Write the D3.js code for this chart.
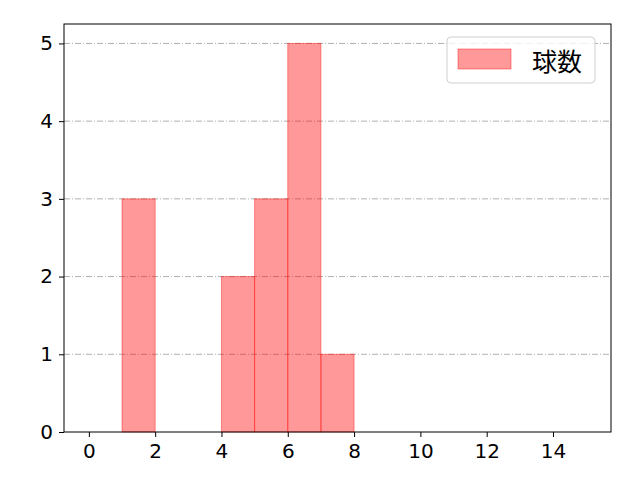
<!DOCTYPE html>
<html lang="ja">
<head>
<meta charset="UTF-8">
<title>球数</title>
<script src="https://d3js.org/d3.v7.min.js"></script>
<style>
  body { margin: 0; background: #fff; }
  text { font-family: "Noto Sans CJK JP", "DejaVu Sans", sans-serif; fill: #000; }
  .tick text { font-family: "DejaVu Sans", sans-serif; }
  .grid line { stroke: #b0b0b0; stroke-width: 1; stroke-dasharray: 6 2 1 2; }
</style>
</head>
<body>
<div id="chart"></div>
<script>
// histogram bins (left edge, right edge) and counts
const binStart = [1, 4, 5, 6, 7];
const binEnd   = [2, 5, 6, 7, 8];
const counts   = [3, 2, 3, 5, 1];
const xTicks = [0, 2, 4, 6, 8, 10, 12, 14];
const yTicks = [0, 1, 2, 3, 4, 5];
const seriesName = "球数";

const width = 640, height = 480;
const margin = { top: 24, right: 29, bottom: 48, left: 64 };
const iw = width - margin.left - margin.right;
const ih = height - margin.top - margin.bottom;

const svg = d3.select("#chart").append("svg")
    .attr("width", width)
    .attr("height", height);

const g = svg.append("g").attr("transform", `translate(${margin.left},${margin.top})`);

const x = d3.scaleLinear().domain([-0.75, 15.75]).range([0, iw]);
const y = d3.scaleLinear().domain([0, 5.25]).range([ih, 0]);

// horizontal grid lines
g.append("g").attr("class", "grid")
  .selectAll("line")
  .data(yTicks.filter(d => d > 0))
  .enter().append("line")
    .attr("x1", 0).attr("x2", iw)
    .attr("y1", d => y(d)).attr("y2", d => y(d));

// bars
const bins = counts.map((c, i) => ({ x0: binStart[i], x1: binEnd[i], n: c }));
g.selectAll(".bar")
  .data(bins)
  .enter().append("rect")
    .attr("class", "bar")
    .attr("x", d => x(d.x0))
    .attr("y", d => y(d.n))
    .attr("width", d => x(d.x1) - x(d.x0))
    .attr("height", d => y(0) - y(d.n))
    .attr("fill", "rgba(255,0,0,0.4)")
    .attr("stroke", "rgba(255,0,0,0.4)")
    .attr("stroke-width", 1);

// axes
const xAxis = g.append("g")
    .attr("transform", `translate(0,${ih})`)
    .call(d3.axisBottom(x).tickValues(xTicks).tickFormat(d3.format("d")).tickSize(5).tickPadding(7));
const yAxis = g.append("g")
    .call(d3.axisLeft(y).tickValues(yTicks).tickFormat(d3.format("d")).tickSize(5).tickPadding(6));
[xAxis, yAxis].forEach(a => {
  a.select(".domain").remove();
  a.selectAll(".tick line").attr("stroke", "#000").attr("stroke-width", 1);
  a.selectAll(".tick text").style("font-size", "20px").attr("fill", "#000");
});

// frame
g.append("rect")
    .attr("width", iw).attr("height", ih)
    .attr("fill", "none").attr("stroke", "#000").attr("stroke-width", 1);

// legend
const lg = g.append("g").attr("transform", `translate(${447 - margin.left},${37 - margin.top})`);
lg.append("rect")
    .attr("width", 148).attr("height", 46).attr("rx", 4)
    .attr("fill", "rgba(255,255,255,0.8)")
    .attr("stroke", "#d0d0d0");
lg.append("rect")
    .attr("x", 11).attr("y", 12).attr("width", 53).attr("height", 20)
    .attr("fill", "rgba(255,0,0,0.4)")
    .attr("stroke", "rgba(255,0,0,0.4)");
lg.append("text")
    .attr("x", 85).attr("y", 23)
    .attr("dominant-baseline", "central")
    .style("font-size", "25px")
    .text(seriesName);
</script>
</body>
</html>
